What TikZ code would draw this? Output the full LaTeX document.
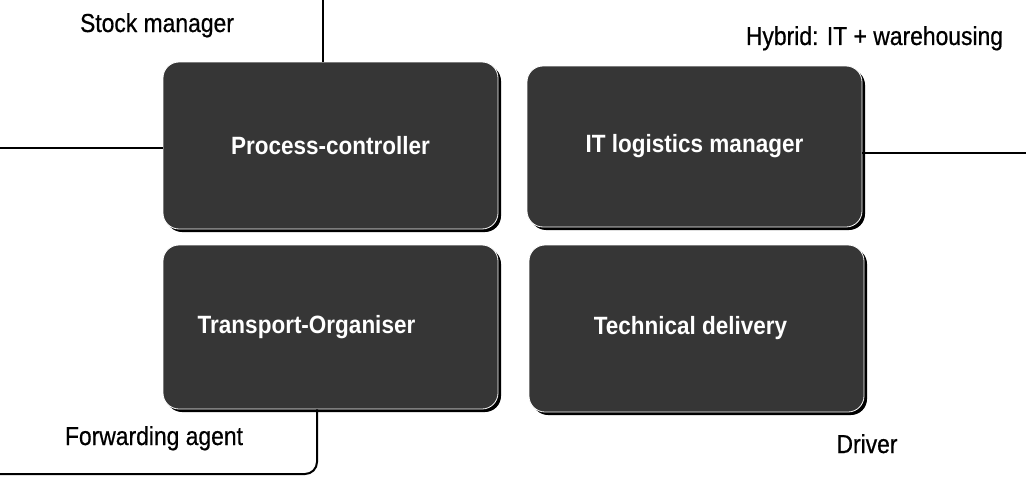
\documentclass[tikz,border=0pt]{standalone}
\usepackage{fontspec}
\setmainfont{Liberation Sans}
\newfontfamily\narrowsans{Liberation Sans}[FakeStretch=0.88, FakeBold=0.6]
\newfontfamily\narrowbold{Liberation Sans}[FakeStretch=0.9, BoldFont={Liberation Sans Bold}]
\usetikzlibrary{calc,shadows}
\definecolor{boxgray}{RGB}{54,54,54}
\begin{document}
\begin{tikzpicture}[x=1pt,y=-1pt,
  role/.style={draw=white, line width=0.8pt, fill=boxgray, rounded corners=16pt,
    minimum width=335pt, minimum height=#1, inner sep=0pt, text=white,
    font=\narrowbold\fontsize{25}{28}\selectfont\bfseries,
    drop shadow={shadow xshift=3pt, shadow yshift=-3pt, fill=black, opacity=1}},
  role/.default=165pt,
  lbl/.style={font=\narrowsans\fontsize{26}{29}\selectfont, anchor=base, inner sep=0pt},
  link/.style={draw=black, line width=2pt}]

% white page
\fill[white] (0,0) rectangle (1026,479);
\useasboundingbox (0,0) rectangle (1026,479);

% the four role boxes
\node[role=167pt] (pc) at (330.5,145.5) {Process-controller};
\node[role=161pt] (it) at (694.5,146.5) {IT logistics manager};
\node[role=164pt] (tr) at (330.5,327)   {\hspace*{-48pt}Transport-Organiser};
\node[role=167pt] (td) at (696.5,328.5) {\hspace*{-12pt}Technical delivery};

% role names outside the boxes
\node[lbl] (stock) at (157,32)  {Stock manager};
\node[lbl] (hyb)   at (874.5,45) {Hybrid: IT + warehousing};
\node[lbl] (fwd)   at (154,445) {Forwarding agent};
\node[lbl] (drv)   at (867,453) {Driver};

% loose ends of the connectors
\coordinate (topend)   at (323,0);
\coordinate (leftend)  at (0,148);
\coordinate (rightend) at (1026,153);
\coordinate (lowend)   at (0,474);

% connectors
\draw[link] (topend) -- (topend |- pc.north);
\draw[link] (leftend) -- (leftend -| pc.west);
\draw[link] (it.east |- rightend) -- (rightend);
\draw[link, rounded corners=12pt] ($(tr.south)+(-13.5,0)$) |- (lowend);
\end{tikzpicture}
\end{document}
